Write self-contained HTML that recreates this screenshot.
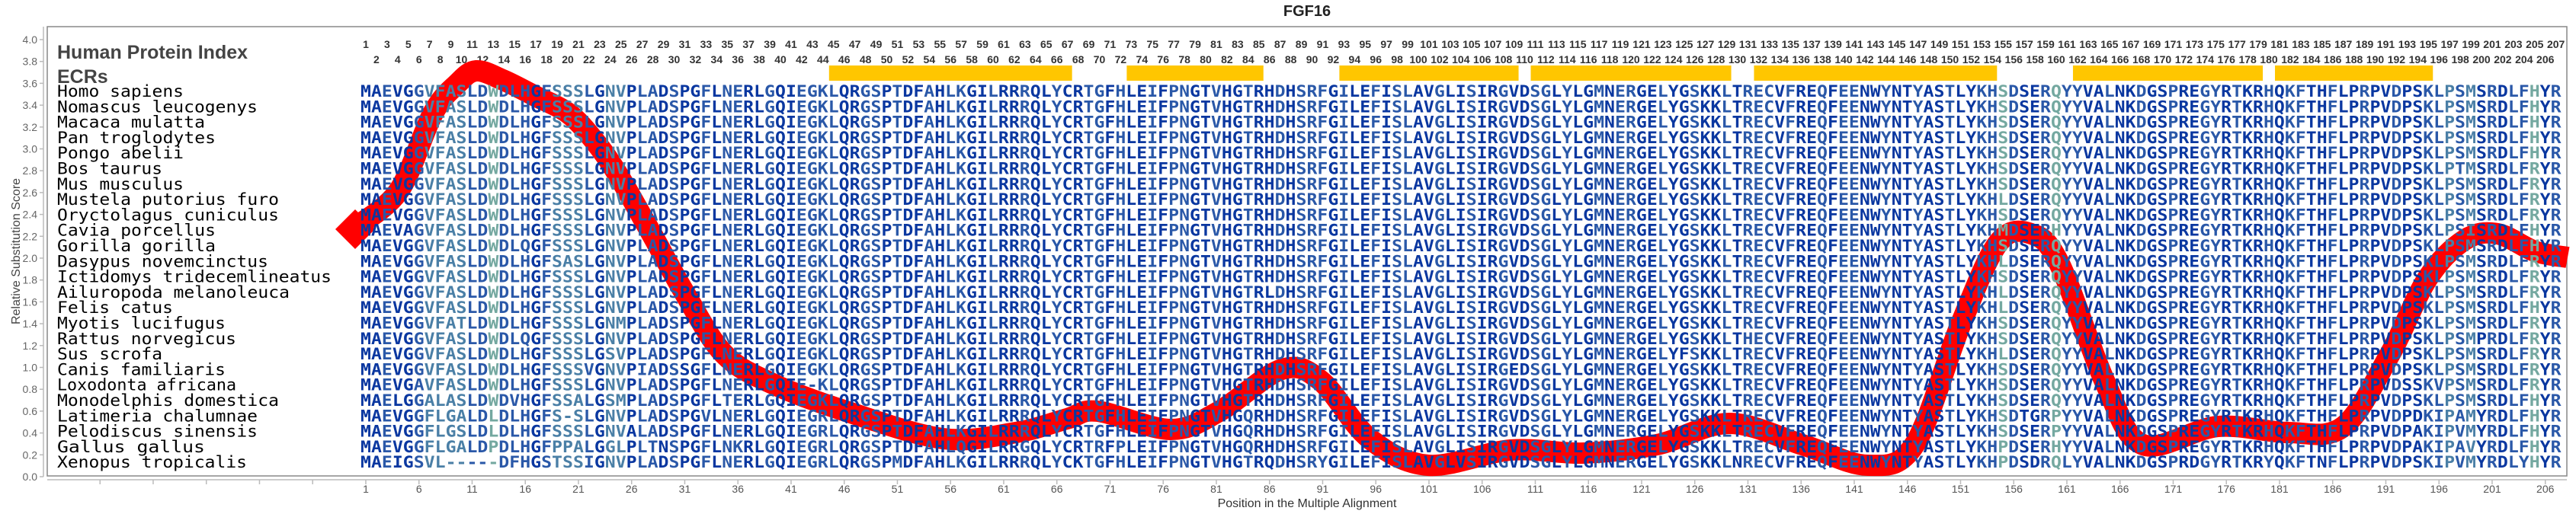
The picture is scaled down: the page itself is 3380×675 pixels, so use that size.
<!DOCTYPE html>
<html><head><meta charset="utf-8">
<style>
html,body{margin:0;padding:0;background:#fff;}
svg{display:block;}
</style></head>
<body>
<svg id="s" width="3380" height="675" xmlns="http://www.w3.org/2000/svg">
<rect width="3380" height="675" fill="#fff"/>
<text x="1715" y="21" text-anchor="middle" font-family="Liberation Sans, sans-serif" font-weight="bold" font-size="20" fill="#222">FGF16</text>
<rect x="62" y="35" width="3306" height="590" fill="none" stroke="#888" stroke-width="1.5"/>
<line x1="57" y1="35" x2="57" y2="626" stroke="#bbb" stroke-width="1.5"/>
<line x1="62" y1="630" x2="3368" y2="630" stroke="#bbb" stroke-width="1.5"/>
<text transform="translate(26,330) rotate(-90)" text-anchor="middle" font-family="Liberation Sans, sans-serif" font-size="16" fill="#444">Relative Substitution Score</text>
<text x="1715" y="666" text-anchor="middle" font-family="Liberation Sans, sans-serif" font-size="16" fill="#333">Position in the Multiple Alignment</text>
<text x="75" y="77" font-family="Liberation Sans, sans-serif" font-weight="bold" font-size="25" fill="#444">Human Protein Index</text>
<text x="75" y="109" font-family="Liberation Sans, sans-serif" font-weight="bold" font-size="25" fill="#444">ECRs</text>
<g id="g"></g>
<g font-family="DejaVu Sans Mono, Liberation Mono, monospace" font-size="21" fill="#000">
<text x="75" y="127.0" textLength="166" lengthAdjust="spacingAndGlyphs">Homo sapiens</text>
<text x="75" y="147.3" textLength="263" lengthAdjust="spacingAndGlyphs">Nomascus leucogenys</text>
<text x="75" y="167.6" textLength="194" lengthAdjust="spacingAndGlyphs">Macaca mulatta</text>
<text x="75" y="187.9" textLength="208" lengthAdjust="spacingAndGlyphs">Pan troglodytes</text>
<text x="75" y="208.2" textLength="166" lengthAdjust="spacingAndGlyphs">Pongo abelii</text>
<text x="75" y="228.5" textLength="138" lengthAdjust="spacingAndGlyphs">Bos taurus</text>
<text x="75" y="248.8" textLength="166" lengthAdjust="spacingAndGlyphs">Mus musculus</text>
<text x="75" y="269.1" textLength="291" lengthAdjust="spacingAndGlyphs">Mustela putorius furo</text>
<text x="75" y="289.4" textLength="291" lengthAdjust="spacingAndGlyphs">Oryctolagus cuniculus</text>
<text x="75" y="309.7" textLength="208" lengthAdjust="spacingAndGlyphs">Cavia porcellus</text>
<text x="75" y="330.0" textLength="208" lengthAdjust="spacingAndGlyphs">Gorilla gorilla</text>
<text x="75" y="350.3" textLength="277" lengthAdjust="spacingAndGlyphs">Dasypus novemcinctus</text>
<text x="75" y="370.6" textLength="360" lengthAdjust="spacingAndGlyphs">Ictidomys tridecemlineatus</text>
<text x="75" y="390.9" textLength="305" lengthAdjust="spacingAndGlyphs">Ailuropoda melanoleuca</text>
<text x="75" y="411.2" textLength="152" lengthAdjust="spacingAndGlyphs">Felis catus</text>
<text x="75" y="431.5" textLength="221" lengthAdjust="spacingAndGlyphs">Myotis lucifugus</text>
<text x="75" y="451.8" textLength="235" lengthAdjust="spacingAndGlyphs">Rattus norvegicus</text>
<text x="75" y="472.1" textLength="138" lengthAdjust="spacingAndGlyphs">Sus scrofa</text>
<text x="75" y="492.4" textLength="221" lengthAdjust="spacingAndGlyphs">Canis familiaris</text>
<text x="75" y="512.7" textLength="235" lengthAdjust="spacingAndGlyphs">Loxodonta africana</text>
<text x="75" y="533.0" textLength="291" lengthAdjust="spacingAndGlyphs">Monodelphis domestica</text>
<text x="75" y="553.3" textLength="263" lengthAdjust="spacingAndGlyphs">Latimeria chalumnae</text>
<text x="75" y="573.6" textLength="263" lengthAdjust="spacingAndGlyphs">Pelodiscus sinensis</text>
<text x="75" y="593.9" textLength="194" lengthAdjust="spacingAndGlyphs">Gallus gallus</text>
<text x="75" y="614.2" textLength="249" lengthAdjust="spacingAndGlyphs">Xenopus tropicalis</text>
</g>
</svg>
<script>
(function(){
var NS="http://www.w3.org/2000/svg";
var g=document.getElementById("g");
function el(t,a,txt){var e=document.createElementNS(NS,t);for(var k in a)e.setAttribute(k,a[k]);if(txt!=null)e.textContent=txt;g.appendChild(e);return e;}
var X0=473,W=13.95;
function cx(p){return X0+(p-0.5)*W;}
// y axis labels
for(var i=0;i<=20;i++){var v=i*0.2,y=626-v*143.5;
 el("line",{x1:52,y1:y,x2:57,y2:y,stroke:"#bbb","stroke-width":1.5});
 el("text",{x:49,y:y+5,"text-anchor":"end","font-family":"Liberation Sans, sans-serif","font-size":14,fill:"#666"},v.toFixed(1));}
// x ticks
for(var k=-6;k<=41;k++){var p=1+5*k,x=cx(p);if(x<62)continue;
 el("line",{x1:x,y1:630,x2:x,y2:636,stroke:"#bbb","stroke-width":1.5});
 if(p>=1)el("text",{x:x,y:647,"text-anchor":"middle","font-family":"Liberation Sans, sans-serif","font-size":14,fill:"#555"},String(p));}
// position numbers
for(var p=1;p<=207;p++){
 el("text",{x:cx(p),y:(p%2?63:83),"text-anchor":"middle","font-family":"Liberation Sans, sans-serif","font-weight":"bold","font-size":14,fill:"#333"},String(p));}
// ECR bars
[[45,67],[73,85],[93,109],[111,129],[132,154],[162,179],[181,195]].forEach(function(b){
 var x1=X0+(b[0]-1)*W+1,x2=X0+b[1]*W-1;
 el("rect",{x:x1,y:86,width:x2-x1,height:20,fill:"#ffc600"});});
// red curve
var P=[[462,301],[523,251],[568,149],[600,110],[625,93],[660,105],[700,125],[746,149],[780,185],[810,228],[855,307],[899,386],[950,465],[1014,504],[1110,540],[1237,576],[1333,568],[1400,550],[1440,540],[1536,564],[1600,540],[1682,485],[1733,500],[1797,576],[1874,611],[1982,591],[2078,595],[2174,584],[2269,556],[2365,584],[2451,611],[2512,584],[2573,425],[2622,319],[2665,307],[2702,346],[2763,504],[2812,584],[2910,560],[3002,568],[3075,560],[3136,465],[3185,366],[3234,315],[3277,307],[3326,330],[3369,338]];
var d="M"+P[0][0]+","+P[0][1];
for(var i=0;i<P.length-1;i++){var p0=P[Math.max(0,i-1)],p1=P[i],p2=P[i+1],p3=P[Math.min(P.length-1,i+2)];
 var c1x=p1[0]+(p2[0]-p0[0])/6,c1y=p1[1]+(p2[1]-p0[1])/6,c2x=p2[0]-(p3[0]-p1[0])/6,c2y=p2[1]-(p3[1]-p1[1])/6;
 d+=" C"+c1x.toFixed(1)+","+c1y.toFixed(1)+" "+c2x.toFixed(1)+","+c2y.toFixed(1)+" "+p2[0]+","+p2[1];}
el("path",{d:d,fill:"none",stroke:"#ff0000","stroke-width":28,"stroke-linejoin":"round"});
el("polygon",{points:"440,301 466,275 492,301 466,327",fill:"#ff0000"});
// sequences
var H="MAEVGGVFASLDWDLHGFSSSLGNVPLADSPGFLNERLGQIEGKLQRGSPTDFAHLKGILRRRQLYCRTGFHLEIFPNGTVHGTRHDHSRFGILEFISLAVGLISIRGVDSGLYLGMNERGELYGSKKLTRECVFREQFEENWYNTYASTLYKHSDSERQYYVALNKDGSPREGYRTKRHQKFTHFLPRPVDPSKLPSMSRDLFHYR";
var L=H.length;
function mod(s,pos,str){return s.substring(0,pos-1)+str+s.substring(pos-1+str.length);}
function tail(s,str){return s.substring(0,L-str.length)+str;}
var rows=[];for(var r=0;r<25;r++)rows.push(H);
rows[5]=tail(rows[5],"PRPVDPSKLPTMSRDLFRYR");
rows[6]=tail(rows[6],"PRPVDPSKLPSMSRDLFRYR");
rows[7]=mod(tail(rows[7],"PRPVDPSKLPSMSRDLFRYR"),155,"L");
rows[8]=mod(tail(rows[8],"PRPVDPSKLPSMSRDLFRYR"),42,"E");
rows[9]=mod(mod(mod(rows[9],5,"AG"),155,"M"),160,"H");rows[9]=tail(rows[9],"PRPVDPSKLPSISRDLFHYR");
rows[10]=mod(rows[10],16,"Q");
rows[11]=mod(mod(rows[11],20,"A"),155,"L");rows[11]=tail(rows[11],"PRPVDPSKLPSMSRDLFRYR");
rows[12]=tail(rows[12],"PRPVDPSKLPSMSRDLFRYR");
rows[13]=mod(mod(rows[13],86,"L"),155,"L");rows[13]=tail(rows[13],"PRPVDPSKLPSMSRDLFRYR");
rows[14]=mod(rows[14],155,"L");
rows[15]=mod(mod(rows[15],10,"T"),25,"M");rows[15]=tail(rows[15],"PRPVDPSKLPSMSRDLFRYR");
rows[16]=mod(mod(rows[16],16,"Q"),131,"H");rows[16]=tail(rows[16],"PRPVDPSKLPSMPRDLFRYR");
rows[17]=mod(mod(rows[17],24,"S"),125,"F");rows[17]=mod(rows[17],155,"L");rows[17]=tail(rows[17],"PRPVDPSKLPSMSRDLFRYR");
rows[18]=mod(mod(rows[18],22,"VGNVPIADSS"),109,"E");rows[18]=tail(rows[18],"PRPVDPSKLPSMSRDLFRYR");
rows[19]=mod(mod(rows[19],1,"MAEVGAVFAS"),43,"-");rows[19]=tail(rows[19],"PRPVDSSKVPSMSRDLFRYR");
rows[20]=mod(rows[20],1,"MAELGGALASLDWDVHGFSSALGSMPLADSPGFLTERLGQIEGKLQRGS");
rows[21]=mod(mod(rows[21],1,"MAEVGGFLGALDLDLHGFS-SLGNVPLADSPGVLNERLGQIEGRLQRGS"),84,"Q");rows[21]=mod(rows[21],156,"DTGRP");rows[21]=tail(rows[21],"PRPVDPDKIPAMYRDLFHYR");
rows[22]=mod(mod(rows[22],1,"MAEVGGFLGSLDLDLHGFSSSLGNVALADSPGFLNERLGQIEGRLQRGS"),84,"Q");rows[22]=mod(rows[22],160,"P");rows[22]=tail(rows[22],"PRPVDPAKIPVMYRDLFHYR");
rows[23]=mod(rows[23],1,"MAEVGGFLGALDPDLHGFPPALGGLPLTNSPGFLNKRLGQIEGRLQRGSPTDFAHLQGILRRGQLYCRTRFPLEIF");rows[23]=mod(rows[23],84,"Q");rows[23]=mod(rows[23],155,"P");rows[23]=mod(rows[23],160,"H");rows[23]=tail(rows[23],"PRPVDPAKIPAVYRDLFHYR");
rows[24]=mod(rows[24],1,"MAEIGSVL-----DFHGSTSSIGNVPLADSPGFLNERLGQIEGRLQRGSPMDFAHLKGILRRRQLYCKTGFHLEIFPNGTVHGTRQDHSRYGILEFISLAVGLVSIRGVDSGLYLGMNERGELYGSKKLNRECVFREQFEENWYNTYASTLYKHPDSDRQLYVALNKDGSPRDGYRTKRYQKFTNFLPRPVDPSKIPVMYRDLYHYR");
for(r=0;r<25;r++){rows[r]=rows[r].substring(0,L);}
// column colors
var C={d:"#0a37a0",m:"#2a58a8",t:"#4a7fa6",l:"#74a8a0"};
var col=[];for(var p=1;p<=L;p++)col.push((p%3==0||p%7==0)?"m":"d");
var spec={6:"m",7:"t",8:"t",9:"t",10:"t",11:"m",13:"l",15:"m",16:"m",19:"t",20:"t",21:"t",22:"m",24:"t",25:"t",43:"m",44:"m",89:"m",90:"m",131:"m",155:"l",160:"l",197:"t",198:"m",199:"t",205:"l"};
for(var k in spec)col[k-1]=spec[k];
for(r=0;r<25;r++){var y=127+r*20.3;
 var t=el("text",{x:X0,y:y,"font-family":"DejaVu Sans Mono, Liberation Mono, monospace","font-weight":"bold","font-size":21,textLength:(L*W).toFixed(1),lengthAdjust:"spacingAndGlyphs"});
 var s=rows[r],i=0;
 while(i<L){var c=col[i],j=i;while(j<L&&col[j]==c)j++;
  var ts=document.createElementNS(NS,"tspan");ts.setAttribute("fill",C[c]);ts.textContent=s.substring(i,j);t.appendChild(ts);i=j;}
}
})();
</script>
</body></html>
